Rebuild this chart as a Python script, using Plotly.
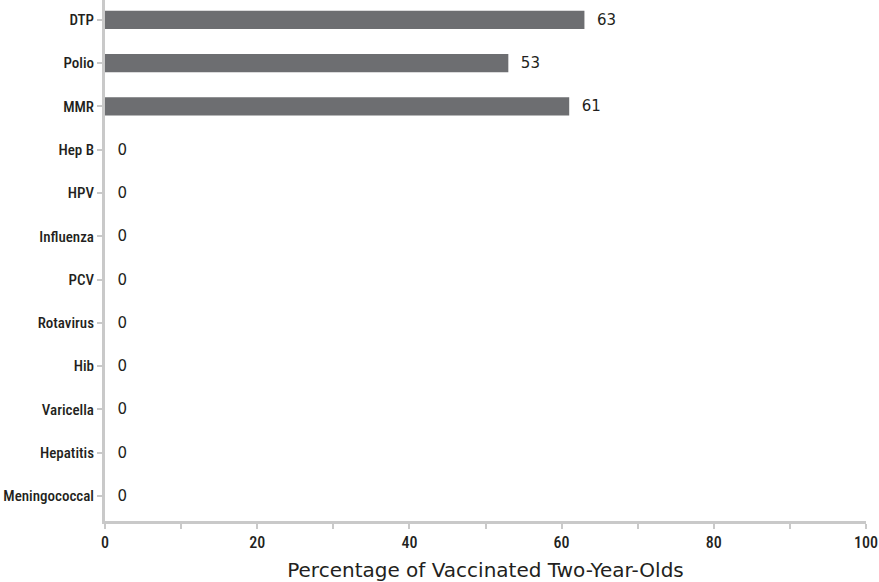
import plotly.graph_objects as go

vaccines = ["DTP", "Polio", "MMR", "Hep B", "HPV", "Influenza", "PCV",
            "Rotavirus", "Hib", "Varicella", "Hepatitis", "Meningococcal"]
coverage = [63, 53, 61, 0, 0, 0, 0, 0, 0, 0, 0, 0]
x_ticks = [0, 20, 40, 60, 80, 100]

axis_gray = "#c9c9c9"
bar_gray = "#6d6e71"
ink = "#231f20"
condensed = "Roboto Condensed, Open Sans Condensed, sans-serif"
wide = "DejaVu Sans, sans-serif"

fig = go.Figure(
    go.Bar(
        y=vaccines,
        x=coverage,
        orientation="h",
        marker=dict(color=bar_gray, line=dict(width=0)),
        width=0.42,
        text=["\u00a0\u00a0" + str(v) for v in coverage],
        textposition="outside",
        cliponaxis=False,
        textfont=dict(family=wide, size=15, color=ink),
        hoverinfo="x+y",
    )
)

fig.update_layout(
    width=879,
    height=582,
    margin=dict(l=105, r=13, t=0, b=61, autoexpand=False),
    plot_bgcolor="white",
    paper_bgcolor="white",
    showlegend=False,
    xaxis=dict(
        range=[0, 100],
        tickvals=x_ticks,
        ticks="outside",
        ticklen=5,
        tickwidth=2,
        tickcolor=axis_gray,
        minor=dict(ticks="outside", dtick=10, ticklen=5, tickwidth=2, tickcolor=axis_gray),
        showline=True,
        linecolor=axis_gray,
        linewidth=3,
        showgrid=False,
        zeroline=False,
        automargin=False,
        tickfont=dict(family=condensed, size=16, color=ink, weight=500),
        title=dict(text="Percentage of Vaccinated Two-Year-Olds",
                   font=dict(family=wide, size=20, color=ink),
                   standoff=14),
        fixedrange=True,
    ),
    yaxis=dict(
        categoryorder="array",
        categoryarray=vaccines,
        range=[11.58, -0.46],
        ticks="outside",
        ticklen=5,
        tickwidth=2,
        tickcolor=axis_gray,
        showline=True,
        linecolor=axis_gray,
        linewidth=3,
        showgrid=False,
        automargin=False,
        ticklabelstandoff=0,
        tickfont=dict(family=condensed, size=15, color=ink, weight=500),
        fixedrange=True,
    ),
)

fig.write_html("out.html")
